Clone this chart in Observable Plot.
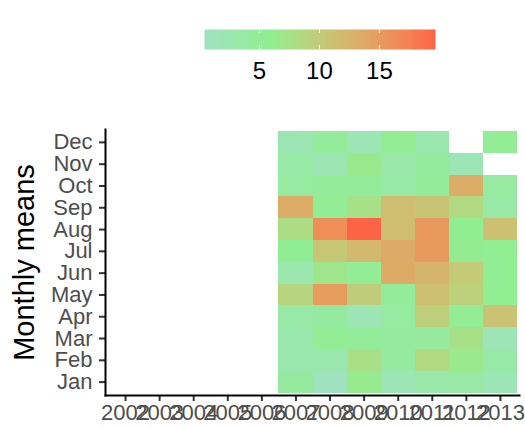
<!DOCTYPE html>
<html>
<head>
<meta charset="utf-8">
<script src="https://cdn.jsdelivr.net/npm/d3@7"></script>
<script src="https://cdn.jsdelivr.net/npm/@observablehq/plot@0.6"></script>
<style>
  html, body { margin: 0; padding: 0; background: #fff; }
  #wrap { width: 525px; height: 428px; position: relative; overflow: hidden; font-family: "Liberation Sans", Arial, sans-serif; }
  #wrap svg { display: block; overflow: visible; }
</style>
</head>
<body>
<div id="wrap"></div>
<script>
const years = ["2002","2003","2004","2005","2006","2007","2008","2009","2010","2011","2012","2013"];
const months = ["Jan","Feb","Mar","Apr","May","Jun","Jul","Aug","Sep","Oct","Nov","Dec"];
// values Jan..Dec for each year with data (null = missing)
const v2007 = [4.2, 2.5, 2.5, 3.5, 9.0, 2.5, 5.7, 8.0, 13.3, 4.0, 3.5, 2.0];
const v2008 = [0.42, 2.5, 5.5, 4.2, 15.0, 7.0, 10.5, 16.3, 5.5, 5.0, 2.0, 5.0];
const v2009 = [6.3, 7.8, 5.0, 1.8, 9.8, 5.3, 12.0, 19.67, 7.5, 5.0, 6.5, 1.8];
const v2010 = [1.8, 4.2, 4.2, 4.0, 4.8, 13.5, 13.5, 11.6, 11.6, 3.5, 3.0, 5.5];
const v2011 = [3.0, 8.5, 4.2, 9.6, 11.3, 12.5, 15.2, 15.2, 10.8, 5.0, 4.5, 2.5];
const v2012 = [3.5, 6.5, 7.6, 5.5, 9.5, 10.2, 6.2, 6.0, 8.5, 13.3, 1.8, null];
const v2013 = [1.6, 3.5, 1.5, 11.0, 5.8, 5.8, 5.8, 11.2, 3.5, 4.0, null, 5.5];
const legendTicks = [5, 10, 15];
const colorDomain = [0.42, 6, 19.67];
const colorRange = ["#9fe2bf", "#90ee90", "#ff6347"];

const series = {"2007": v2007, "2008": v2008, "2009": v2009, "2010": v2010, "2011": v2011, "2012": v2012, "2013": v2013};
const data = [];
for (const [year, vals] of Object.entries(series)) {
  vals.forEach((v, i) => { if (v != null) data.push({year, month: months[i], value: v}); });
}

const colorScale = {type: "linear", domain: colorDomain, range: colorRange, interpolate: d3.interpolateLab};
const font = "Liberation Sans, Arial, sans-serif";

// Legend (colourbar)
const legend = Plot.plot({
  width: 525, height: 100,
  marginLeft: 204, marginRight: 90, marginTop: 29, marginBottom: 51,
  style: {fontFamily: font, background: "transparent"},
  x: {type: "linear", domain: [colorDomain[0], colorDomain[2]]},
  y: {domain: [0, 1], axis: null},
  color: colorScale,
  marks: [
    Plot.raster({fill: (x, y) => x, x1: colorDomain[0], x2: colorDomain[2], y1: 0, y2: 1, pixelSize: 1}),
    Plot.ruleX(legendTicks, {y1: 0, y2: 0.2, stroke: "white", strokeWidth: 1}),
    Plot.ruleX(legendTicks, {y1: 0.8, y2: 1, stroke: "white", strokeWidth: 1}),
    Plot.axisX({ticks: legendTicks, tickSize: 0, tickPadding: 12, fontSize: 24, fill: "black", label: null})
  ]
});

const chart = Plot.plot({
  width: 525, height: 328,
  marginLeft: 105, marginRight: 6, marginTop: 29, marginBottom: 33,
  style: {fontFamily: font, background: "transparent"},
  x: {type: "band", domain: years, padding: 0, round: false, insetLeft: 3, insetRight: 2},
  y: {type: "band", domain: months.slice().reverse(), padding: 0, round: false, insetTop: 2, insetBottom: 2.5},
  color: colorScale,
  marks: [
    Plot.cell(data, {x: "year", y: "month", fill: "value", inset: 0, shapeRendering: "crispEdges"}),
    Plot.axisX({tickSize: 6, tickPadding: 3, stroke: "#333", strokeWidth: 2, fill: "#4d4d4d", fontSize: 22, label: null}),
    Plot.axisY({tickSize: 6, tickPadding: 7, stroke: "#333", strokeWidth: 2, fill: "#4d4d4d", fontSize: 22, label: null}),
    Plot.frame({anchor: "left", stroke: "black", strokeWidth: 2}),
    Plot.frame({anchor: "bottom", stroke: "black", strokeWidth: 2}),
    Plot.text(["Monthly means"], {frameAnchor: "left", dx: -81, rotate: -90, textAnchor: "middle", fontSize: 29, fill: "black"})
  ]
});

const wrap = document.getElementById("wrap");
wrap.appendChild(legend);
wrap.appendChild(chart);
</script>
</body>
</html>
